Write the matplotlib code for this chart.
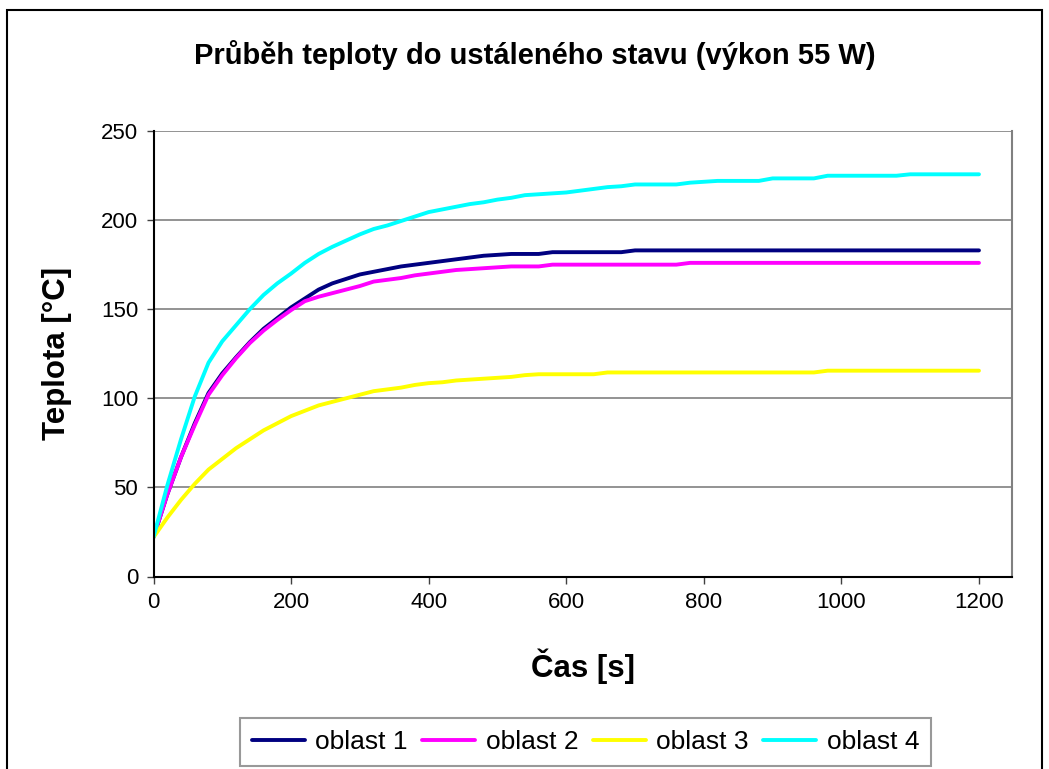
import matplotlib
matplotlib.use("Agg")
import matplotlib.pyplot as plt
from matplotlib.patches import Rectangle

plt.rcParams['font.family'] = ['Liberation Sans', 'DejaVu Sans']

# time samples [s]
cas = list(range(0, 1201, 20))

oblast_1 = [22, 46, 67, 86, 103, 114, 123, 131.5, 139, 145, 151, 156, 161, 164.5, 167,
            169.5, 171, 172.5, 174, 175, 176, 177, 178, 179, 180, 180.5, 181, 181, 181,
            182, 182, 182, 182, 182, 182] + [183] * 26
oblast_2 = [22, 46, 67, 85, 102, 113, 122.5, 131, 138, 144, 149.5, 154.5, 157, 159, 161,
            163, 165.5, 166.5, 167.5, 169, 170, 171, 172, 172.5, 173, 173.5, 174, 174,
            174] + [175] * 10 + [176] * 22
oblast_3 = [22, 33, 43, 52, 60, 66, 72, 77, 82, 86, 90, 93, 96, 98, 100, 102, 104, 105,
            106, 107.5, 108.5, 109, 110, 110.5, 111, 111.5, 112, 113, 113.5, 113.5, 113.5,
            113.5, 113.5] + [114.5] * 16 + [115.5] * 12
oblast_4 = [22, 51, 77, 101, 120, 132, 141, 150, 158, 164.5, 170, 176, 181, 185, 188.5,
            192, 195, 197, 199.5, 202, 204.5, 206, 207.5, 209, 210, 211.5, 212.5, 214,
            214.5, 215, 215.5, 216.5, 217.5, 218.5, 219, 220, 220, 220, 220, 221, 221.5,
            222, 222, 222, 222] + [223.4] * 4 + [224.9] * 6 + [225.7] * 6

series = [oblast_1, oblast_2, oblast_3, oblast_4]
names = ['oblast 1', 'oblast 2', 'oblast 3', 'oblast 4']
colors = ['#000080', '#FF00FF', '#FFFF00', '#00FFFF']

fig = plt.figure(figsize=(10.49, 7.69), dpi=100)
W, H = 1049, 769

# outer chart border
fig.patches.append(Rectangle((7 / W, -0.05), 1035 / W, 1 - 10 / H + 0.05,
                             transform=fig.transFigure, fill=False,
                             edgecolor='black', linewidth=1.5))

ax = fig.add_axes([153.5 / W, 1 - 576.5 / H, (1012 - 153.5) / W, (576.5 - 131) / H])

for y, name, c in zip(series, names, colors):
    ax.plot(cas, y, color=c, linewidth=2.8, label=name, solid_capstyle='round')

ax.set_xlim(0, 1248)
ax.set_ylim(0, 250)
ax.set_xticks(range(0, 1201, 200))
ax.set_yticks(range(0, 251, 50))
ax.grid(axis='y', color='#808080', linewidth=1.2)
ax.set_axisbelow(True)

for side in ['left', 'bottom']:
    ax.spines[side].set_color('black')
    ax.spines[side].set_linewidth(1.5)
ax.spines['right'].set_color('#808080')
ax.spines['right'].set_linewidth(1.5)
ax.spines['top'].set_visible(False)

ax.tick_params(direction='out', length=5, width=1, color='#404040',
               labelsize=16, pad=6)

ax.set_xlabel('Čas [s]', fontsize=22.5, fontweight='bold')
ax.xaxis.set_label_coords(0.5, -0.161)
ax.set_ylabel('Teplota [°C]', fontsize=22.5, fontweight='bold')
ax.yaxis.set_label_coords(-0.095, 0.5)

fig.text(535 / W, 1 - 55 / H, 'Průběh teploty do ustáleného stavu (výkon 55 W)',
         ha='center', va='center', fontsize=21, fontweight='bold')

leg = fig.legend(loc='center', bbox_to_anchor=(585.5 / W, 1 - 742 / H), ncol=4,
                 fontsize=19, frameon=True, fancybox=False, handlelength=2.0,
                 columnspacing=0.55, handletextpad=0.4, borderpad=0.45)
leg.get_frame().set_edgecolor('#808080')
leg.get_frame().set_linewidth(1.5)

fig.savefig('out.png', dpi=100)
